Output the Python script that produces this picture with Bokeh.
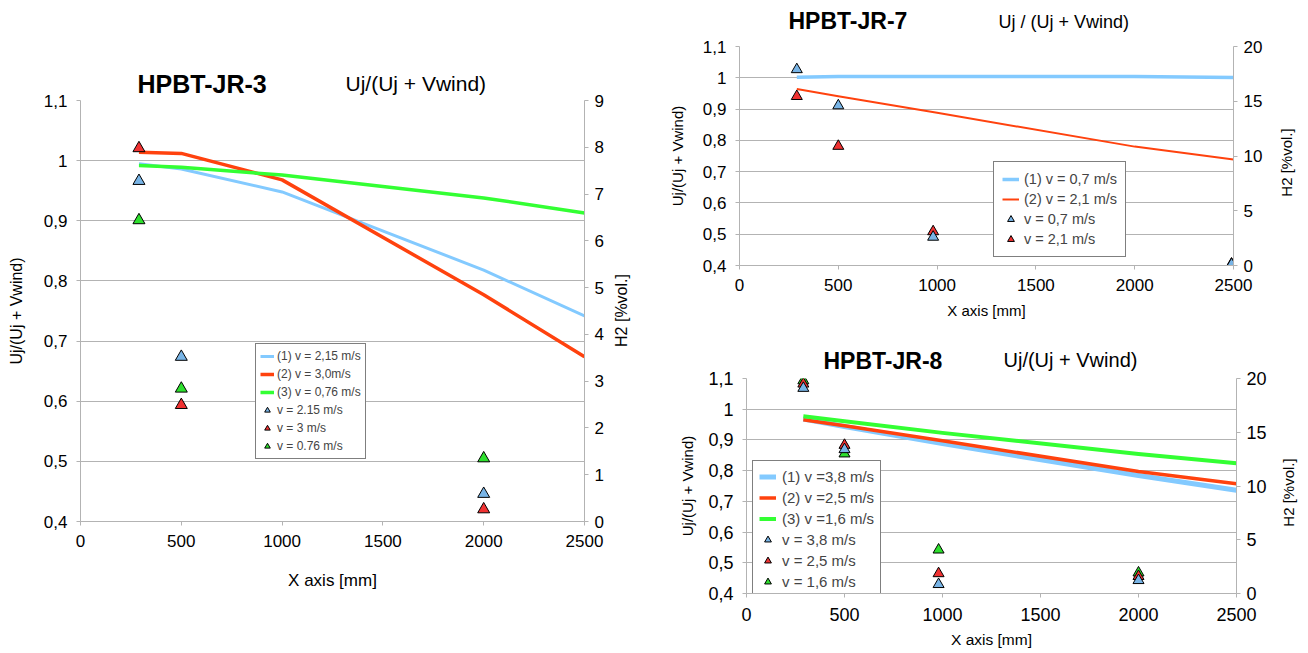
from math import pi
from bokeh.plotting import figure
from bokeh.models import (Range1d, LinearAxis, FixedTicker, CustomJSTickFormatter,
                          Label, Legend, LegendItem)
from bokeh.layouts import row, column
from bokeh.embed import file_html
from bokeh.resources import INLINE

FONT = "Liberation Sans"
GRID = "#b3b3b3"
BLUE_L, RED_L, GREEN_L = "#83caff", "#ff420e", "#33ff33"
BLUE_T, RED_T, GREEN_T = "#78b4e6", "#f03232", "#2ee02e"

x_ticks = [0, 500, 1000, 1500, 2000, 2500]
u_ticks = [0.4, 0.5, 0.6, 0.7, 0.8, 0.9, 1.0, 1.1]

# ---------------- HPBT-JR-3 ----------------
jr3_x = [290, 500, 1000, 2000, 2500]
jr3_u1 = [0.995, 0.986, 0.948, 0.818, 0.742]
jr3_u2 = [1.014, 1.012, 0.968, 0.777, 0.674]
jr3_u3 = [0.992, 0.989, 0.976, 0.938, 0.913]
jr3_px = [290, 500, 2000]
jr3_h1 = [7.28, 3.52, 0.59]
jr3_h2 = [7.98, 2.49, 0.26]
jr3_h3 = [6.44, 2.84, 1.35]
jr3_line_labels = ["(1) v = 2,15 m/s", "(2) v = 3,0m/s", "(3) v = 0,76 m/s"]
jr3_pt_labels = ["v = 2.15 m/s", "v = 3 m/s", "v = 0.76 m/s"]
jr3_h2_ticks = [0, 1, 2, 3, 4, 5, 6, 7, 8, 9]

# ---------------- HPBT-JR-7 ----------------
jr7_x = [290, 500, 1000, 2000, 2500]
jr7_u1 = [1.002, 1.004, 1.004, 1.004, 1.001]
jr7_u2 = [0.964, 0.941, 0.888, 0.780, 0.739]
jr7_px = [290, 500, 980, 2490]
jr7_h1 = [17.9, 14.6, 2.6, 0.1]
jr7_h2 = [15.45, 10.9, 3.1, 0.15]
jr7_line_labels = ["(1) v = 0,7 m/s", "(2) v = 2,1 m/s"]
jr7_pt_labels = ["v = 0,7 m/s", "v = 2,1 m/s"]
h2_ticks_20 = [0, 5, 10, 15, 20]

# ---------------- HPBT-JR-8 ----------------
jr8_x = [290, 500, 1000, 2000, 2500]
jr8_u1 = [0.968, 0.944, 0.888, 0.784, 0.736]
jr8_u2 = [0.966, 0.946, 0.897, 0.797, 0.757]
jr8_u3 = [0.977, 0.961, 0.923, 0.854, 0.824]
jr8_px = [290, 500, 980, 2000]
jr8_h1 = [19.1, 13.4, 0.85, 1.22]
jr8_h2 = [19.5, 13.8, 1.86, 1.6]
jr8_h3 = [19.8, 13.0, 4.06, 1.93]
jr8_line_labels = ["(1) v =3,8 m/s", "(2) v =2,5 m/s", "(3) v =1,6 m/s"]
jr8_pt_labels = ["v = 3,8 m/s", "v = 2,5 m/s", "v = 1,6 m/s"]

comma_fmt = "return (Math.round(tick*10)/10).toString().replace('.', ',');"


def make_chart(W, H, bl, br, bt, bb, h2_max, h2_ticks, tick_fs, std_y, std_x, std_r,
               lab_fs, xlab_fs, xlab_std, ylab_std):
    p = figure(width=W, height=H, x_range=Range1d(0, 2500), y_range=Range1d(0.4, 1.1),
               output_backend="svg", toolbar_location=None,
               min_border_left=bl, min_border_right=br, min_border_top=bt, min_border_bottom=bb)
    p.outline_line_color = None
    p.background_fill_color = "white"
    p.border_fill_color = "white"
    p.extra_y_ranges = {"h2": Range1d(0, h2_max)}
    rax = LinearAxis(y_range_name="h2", ticker=FixedTicker(ticks=h2_ticks))
    p.add_layout(rax, "right")
    p.xaxis.ticker = FixedTicker(ticks=x_ticks)
    p.yaxis[0].ticker = FixedTicker(ticks=u_ticks)
    p.yaxis[0].formatter = CustomJSTickFormatter(code=comma_fmt)
    for ax in p.axis:
        ax.axis_line_color = GRID
        ax.major_tick_line_color = GRID
        ax.minor_tick_line_color = None
        ax.major_tick_in = 0
        ax.major_tick_out = 4
        ax.major_label_text_font = FONT
        ax.major_label_text_font_size = tick_fs
        ax.major_label_text_color = "black"
        ax.axis_label_text_font = FONT
        ax.axis_label_text_font_style = "normal"
        ax.axis_label_text_color = "black"
        ax.axis_label_text_font_size = lab_fs
    p.yaxis[0].major_label_standoff = std_y
    p.xaxis.major_label_standoff = std_x
    rax.major_label_standoff = std_r
    p.xaxis.axis_label = "X axis [mm]"
    p.xaxis.axis_label_text_font_size = xlab_fs
    p.xaxis.axis_label_standoff = xlab_std
    p.yaxis[0].axis_label = "Uj/(Uj + Vwind)"
    p.yaxis[0].axis_label_standoff = ylab_std
    p.xgrid.visible = False
    p.ygrid.ticker = FixedTicker(ticks=u_ticks)
    p.ygrid.grid_line_color = GRID
    return p


def title_lab(p, x, y, text, size, bold=False):
    p.add_layout(Label(x=x, y=y, x_units="screen", y_units="screen", text=text,
                       text_font=FONT, text_font_size=size,
                       text_font_style="bold" if bold else "normal",
                       text_align="left", text_baseline="alphabetic",
                       text_color="black"), "above")


def right_lab(p, x, y, text, size):
    p.add_layout(Label(x=x, y=y, x_units="screen", y_units="screen", text=text,
                       text_font=FONT, text_font_size=size, angle=pi / 2,
                       text_align="center", text_baseline="middle",
                       text_color="black"), "right")


def tri(p, x, y, color, size):
    return p.scatter(x, y, marker="triangle", size=size, fill_color=color,
                     line_color="black", line_width=1, y_range_name="h2")


# ===== Left chart JR-3 =====
p1 = make_chart(658, 650, 80, 74, 100, 129, 9, jr3_h2_ticks, "17px", 9, 9, 6,
                "16px", "17px", 21, 16)
l1 = p1.line(jr3_x, jr3_u1, line_color=BLUE_L, line_width=3, line_join="round")
l2 = p1.line(jr3_x, jr3_u2, line_color=RED_L, line_width=3.5, line_join="round")
l3 = p1.line(jr3_x, jr3_u3, line_color=GREEN_L, line_width=3.5, line_join="round")
t3 = tri(p1, jr3_px, jr3_h3, GREEN_T, 12)
t2 = tri(p1, jr3_px, jr3_h2, RED_T, 12)
t1 = tri(p1, jr3_px, jr3_h1, BLUE_T, 12)
leg1 = Legend(items=[LegendItem(label=jr3_line_labels[0], renderers=[l1]),
                     LegendItem(label=jr3_line_labels[1], renderers=[l2]),
                     LegendItem(label=jr3_line_labels[2], renderers=[l3]),
                     LegendItem(label=jr3_pt_labels[0], renderers=[t1]),
                     LegendItem(label=jr3_pt_labels[1], renderers=[t2]),
                     LegendItem(label=jr3_pt_labels[2], renderers=[t3])],
              location=(175, 62), label_text_font=FONT, label_text_font_size="12px",
              glyph_height=16, glyph_width=14, label_height=16, spacing=2, padding=4,
              label_standoff=3, border_line_color="black", border_line_width=1,
              background_fill_alpha=1.0, margin=0)
p1.add_layout(leg1)
title_lab(p1, 57, 16.5, "HPBT-JR-3", "25px", bold=True)
title_lab(p1, 265, -11.4, "Uj/(Uj + Vwind)", "21px")
right_lab(p1, 15, 211, "H2 [%vol.]", "16px")

# ===== Top-right chart JR-7 =====
p2 = make_chart(648, 330, 81, 73, 46, 65, 20, h2_ticks_20, "17px", 9, 9, 6,
                "15px", "15px", 8, 14)
m1 = p2.line(jr7_x, jr7_u1, line_color=BLUE_L, line_width=3.5, line_join="round")
m2 = p2.line(jr7_x, jr7_u2, line_color=RED_L, line_width=2, line_join="round")
s2 = tri(p2, jr7_px, jr7_h2, RED_T, 11)
s1 = tri(p2, jr7_px, jr7_h1, BLUE_T, 11)
leg2 = Legend(items=[LegendItem(label=jr7_line_labels[0], renderers=[m1]),
                     LegendItem(label=jr7_line_labels[1], renderers=[m2]),
                     LegendItem(label=jr7_pt_labels[0], renderers=[s1]),
                     LegendItem(label=jr7_pt_labels[1], renderers=[s2])],
              location=(254, 8), label_text_font=FONT, label_text_font_size="14.5px",
              glyph_height=18, glyph_width=17, label_height=18, spacing=2, padding=8,
              label_standoff=5, border_line_color="black", border_line_width=1,
              background_fill_alpha=1.0, margin=0)
p2.add_layout(leg2)
title_lab(p2, 49, 26, "HPBT-JR-7", "23px", bold=True)
title_lab(p2, 259, -1.7, "Uj / (Uj + Vwind)", "18px")
right_lab(p2, 21, 103, "H2 [%vol.]", "15px")

# ===== Bottom-right chart JR-8 =====
p3 = make_chart(648, 320, 88, 70, 48, 57, 20, h2_ticks_20, "18px", 9, 10, 6,
                "15px", "15.5px", 7, 9)
n1 = p3.line(jr8_x, jr8_u1, line_color=BLUE_L, line_width=5, line_join="round")
n2 = p3.line(jr8_x, jr8_u2, line_color=RED_L, line_width=3.5, line_join="round")
n3 = p3.line(jr8_x, jr8_u3, line_color=GREEN_L, line_width=4, line_join="round")
q3 = tri(p3, jr8_px, jr8_h3, GREEN_T, 11)
q2 = tri(p3, jr8_px, jr8_h2, RED_T, 11)
q1 = tri(p3, jr8_px, jr8_h1, BLUE_T, 11)
leg3 = Legend(items=[LegendItem(label=jr8_line_labels[0], renderers=[n1]),
                     LegendItem(label=jr8_line_labels[1], renderers=[n2]),
                     LegendItem(label=jr8_line_labels[2], renderers=[n3]),
                     LegendItem(label=jr8_pt_labels[0], renderers=[q1]),
                     LegendItem(label=jr8_pt_labels[1], renderers=[q2]),
                     LegendItem(label=jr8_pt_labels[2], renderers=[q3])],
              location=(6, -5), label_text_font=FONT, label_text_font_size="15px",
              glyph_height=19, glyph_width=17, label_height=19, spacing=2, padding=6,
              label_standoff=6, border_line_color="black", border_line_width=1,
              background_fill_alpha=1.0, margin=0)
p3.add_layout(leg3)
title_lab(p3, 77, 18, "HPBT-JR-8", "23px", bold=True)
title_lab(p3, 257, -7.7, "Uj/(Uj + Vwind)", "20px")
right_lab(p3, 19, 101, "H2 [%vol.]", "15px")

layout = row(p1, column(row(p2), row(p3), spacing=0), spacing=0)
open("out.html", "w").write(file_html(layout, INLINE))
